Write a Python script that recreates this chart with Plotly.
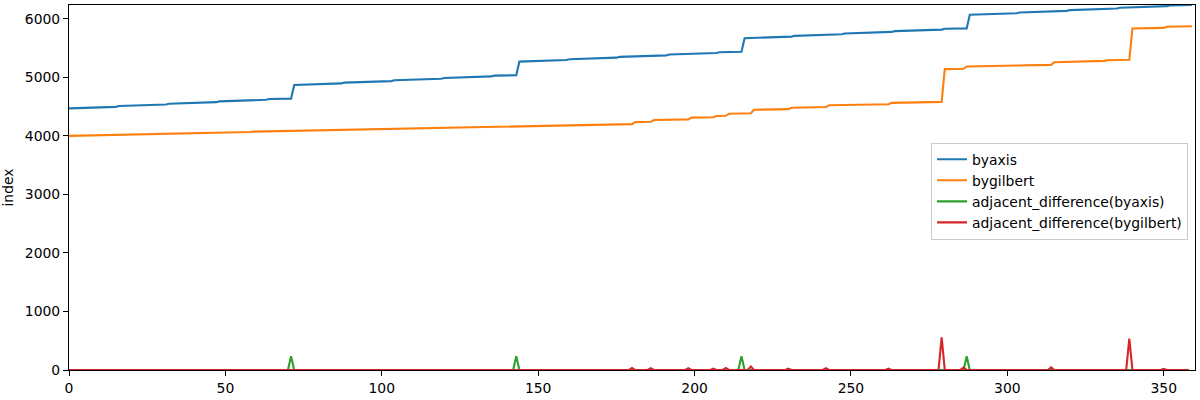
import plotly.graph_objects as go

# ---- data ----
byaxis = [
    4470, 4471, 4472, 4473, 4474, 4475, 4476, 4477,
    4490, 4491, 4492, 4493, 4494, 4495, 4496, 4497,
    4510, 4511, 4512, 4513, 4514, 4515, 4516, 4517,
    4530, 4531, 4532, 4533, 4534, 4535, 4536, 4537,
    4550, 4551, 4552, 4553, 4554, 4555, 4556, 4557,
    4570, 4571, 4572, 4573, 4574, 4575, 4576, 4577,
    4590, 4591, 4592, 4593, 4594, 4595, 4596, 4597,
    4610, 4611, 4612, 4613, 4614, 4615, 4616, 4617,
    4630, 4631, 4632, 4633, 4634, 4635, 4636, 4637,
    4870, 4871, 4872, 4873, 4874, 4875, 4876, 4877,
    4890, 4891, 4892, 4893, 4894, 4895, 4896, 4897,
    4910, 4911, 4912, 4913, 4914, 4915, 4916, 4917,
    4930, 4931, 4932, 4933, 4934, 4935, 4936, 4937,
    4950, 4951, 4952, 4953, 4954, 4955, 4956, 4957,
    4970, 4971, 4972, 4973, 4974, 4975, 4976, 4977,
    4990, 4991, 4992, 4993, 4994, 4995, 4996, 4997,
    5010, 5011, 5012, 5013, 5014, 5015, 5016, 5017,
    5030, 5031, 5032, 5033, 5034, 5035, 5036, 5037,
    5270, 5271, 5272, 5273, 5274, 5275, 5276, 5277,
    5290, 5291, 5292, 5293, 5294, 5295, 5296, 5297,
    5310, 5311, 5312, 5313, 5314, 5315, 5316, 5317,
    5330, 5331, 5332, 5333, 5334, 5335, 5336, 5337,
    5350, 5351, 5352, 5353, 5354, 5355, 5356, 5357,
    5370, 5371, 5372, 5373, 5374, 5375, 5376, 5377,
    5390, 5391, 5392, 5393, 5394, 5395, 5396, 5397,
    5410, 5411, 5412, 5413, 5414, 5415, 5416, 5417,
    5430, 5431, 5432, 5433, 5434, 5435, 5436, 5437,
    5670, 5671, 5672, 5673, 5674, 5675, 5676, 5677,
    5690, 5691, 5692, 5693, 5694, 5695, 5696, 5697,
    5710, 5711, 5712, 5713, 5714, 5715, 5716, 5717,
    5730, 5731, 5732, 5733, 5734, 5735, 5736, 5737,
    5750, 5751, 5752, 5753, 5754, 5755, 5756, 5757,
    5770, 5771, 5772, 5773, 5774, 5775, 5776, 5777,
    5790, 5791, 5792, 5793, 5794, 5795, 5796, 5797,
    5810, 5811, 5812, 5813, 5814, 5815, 5816, 5817,
    5830, 5831, 5832, 5833, 5834, 5835, 5836, 5837,
    6070, 6071, 6072, 6073, 6074, 6075, 6076, 6077,
    6090, 6091, 6092, 6093, 6094, 6095, 6096, 6097,
    6110, 6111, 6112, 6113, 6114, 6115, 6116, 6117,
    6130, 6131, 6132, 6133, 6134, 6135, 6136, 6137,
    6150, 6151, 6152, 6153, 6154, 6155, 6156, 6157,
    6170, 6171, 6172, 6173, 6174, 6175, 6176, 6177,
    6190, 6191, 6192, 6193, 6194, 6195, 6196, 6197,
    6210, 6211, 6212, 6213, 6214, 6215, 6216, 6217,
    6230, 6231, 6232, 6233, 6234, 6235, 6236, 6237,
]

bygilbert = [
    4000, 4001, 4002, 4003, 4004, 4005, 4006, 4007, 4008, 4009,
    4010, 4011, 4012, 4013, 4014, 4015, 4016, 4017, 4018, 4019,
    4020, 4021, 4022, 4031, 4032, 4033, 4034, 4035, 4036, 4037,
    4038, 4039, 4040, 4041, 4042, 4043, 4044, 4045, 4046, 4047,
    4048, 4049, 4050, 4051, 4052, 4053, 4054, 4055, 4056, 4057,
    4058, 4059, 4060, 4061, 4062, 4063, 4064, 4065, 4066, 4073,
    4074, 4075, 4076, 4077, 4078, 4079, 4080, 4081, 4082, 4083,
    4084, 4085, 4086, 4087, 4088, 4089, 4090, 4091, 4092, 4093,
    4094, 4095, 4096, 4097, 4098, 4099, 4100, 4101, 4102, 4103,
    4104, 4105, 4106, 4107, 4108, 4109, 4110, 4111, 4112, 4113,
    4114, 4115, 4116, 4117, 4118, 4119, 4120, 4121, 4122, 4123,
    4124, 4125, 4126, 4127, 4128, 4129, 4130, 4131, 4132, 4133,
    4134, 4135, 4136, 4137, 4138, 4139, 4140, 4141, 4142, 4143,
    4144, 4145, 4146, 4147, 4148, 4149, 4150, 4151, 4152, 4153,
    4154, 4155, 4156, 4157, 4158, 4159, 4160, 4161, 4162, 4163,
    4164, 4165, 4166, 4167, 4168, 4176, 4177, 4178, 4179, 4180,
    4181, 4182, 4183, 4184, 4185, 4186, 4187, 4188, 4189, 4190,
    4191, 4192, 4193, 4194, 4195, 4196, 4197, 4198, 4199, 4200,
    4201, 4236, 4237, 4238, 4239, 4240, 4241, 4271, 4272, 4273,
    4274, 4275, 4276, 4277, 4278, 4279, 4280, 4281, 4282, 4312,
    4313, 4314, 4315, 4316, 4317, 4318, 4319, 4341, 4342, 4343,
    4344, 4379, 4380, 4381, 4382, 4383, 4384, 4385, 4386, 4446,
    4447, 4448, 4449, 4450, 4451, 4452, 4453, 4454, 4455, 4456,
    4457, 4482, 4483, 4484, 4485, 4486, 4487, 4488, 4489, 4490,
    4491, 4492, 4493, 4523, 4524, 4525, 4526, 4527, 4528, 4529,
    4530, 4531, 4532, 4533, 4534, 4535, 4536, 4537, 4538, 4539,
    4540, 4541, 4542, 4565, 4566, 4567, 4568, 4569, 4570, 4571,
    4572, 4573, 4574, 4575, 4576, 4577, 4578, 4579, 4580, 4581,
    5141, 5142, 5143, 5144, 5145, 5146, 5147, 5187, 5188, 5189,
    5190, 5191, 5192, 5193, 5194, 5195, 5196, 5197, 5198, 5199,
    5200, 5201, 5202, 5203, 5204, 5205, 5206, 5207, 5208, 5209,
    5210, 5211, 5212, 5213, 5214, 5259, 5260, 5261, 5262, 5263,
    5264, 5272, 5273, 5274, 5275, 5276, 5277, 5278, 5279, 5280,
    5281, 5282, 5294, 5295, 5296, 5297, 5298, 5299, 5300, 5301,
    5836, 5837, 5838, 5839, 5840, 5841, 5842, 5843, 5844, 5845,
    5846, 5866, 5867, 5868, 5869, 5870, 5871, 5872, 5873, 5874,
]

diff_byaxis = [
    1, 1, 1, 1, 1, 1, 1, 13,  1, 1, 1, 1, 1, 1, 1, 13,
    1, 1, 1, 1, 1, 1, 1, 13,  1, 1, 1, 1, 1, 1, 1, 13,
    1, 1, 1, 1, 1, 1, 1, 13,  1, 1, 1, 1, 1, 1, 1, 13,
    1, 1, 1, 1, 1, 1, 1, 13,  1, 1, 1, 1, 1, 1, 1, 13,
    1, 1, 1, 1, 1, 1, 1, 233,
    1, 1, 1, 1, 1, 1, 1, 13,  1, 1, 1, 1, 1, 1, 1, 13,
    1, 1, 1, 1, 1, 1, 1, 13,  1, 1, 1, 1, 1, 1, 1, 13,
    1, 1, 1, 1, 1, 1, 1, 13,  1, 1, 1, 1, 1, 1, 1, 13,
    1, 1, 1, 1, 1, 1, 1, 13,  1, 1, 1, 1, 1, 1, 1, 13,
    1, 1, 1, 1, 1, 1, 1, 233,
    1, 1, 1, 1, 1, 1, 1, 13,  1, 1, 1, 1, 1, 1, 1, 13,
    1, 1, 1, 1, 1, 1, 1, 13,  1, 1, 1, 1, 1, 1, 1, 13,
    1, 1, 1, 1, 1, 1, 1, 13,  1, 1, 1, 1, 1, 1, 1, 13,
    1, 1, 1, 1, 1, 1, 1, 13,  1, 1, 1, 1, 1, 1, 1, 13,
    1, 1, 1, 1, 1, 1, 1, 233,
    1, 1, 1, 1, 1, 1, 1, 13,  1, 1, 1, 1, 1, 1, 1, 13,
    1, 1, 1, 1, 1, 1, 1, 13,  1, 1, 1, 1, 1, 1, 1, 13,
    1, 1, 1, 1, 1, 1, 1, 13,  1, 1, 1, 1, 1, 1, 1, 13,
    1, 1, 1, 1, 1, 1, 1, 13,  1, 1, 1, 1, 1, 1, 1, 13,
    1, 1, 1, 1, 1, 1, 1, 233,
    1, 1, 1, 1, 1, 1, 1, 13,  1, 1, 1, 1, 1, 1, 1, 13,
    1, 1, 1, 1, 1, 1, 1, 13,  1, 1, 1, 1, 1, 1, 1, 13,
    1, 1, 1, 1, 1, 1, 1, 13,  1, 1, 1, 1, 1, 1, 1, 13,
    1, 1, 1, 1, 1, 1, 1, 13,  1, 1, 1, 1, 1, 1, 1, 13,
    1, 1, 1, 1, 1, 1, 1,
]

diff_bygilbert = [
    1, 1, 1, 1, 1, 1, 1, 1, 1, 1,
    1, 1, 1, 1, 1, 1, 1, 1, 1, 1,
    1, 1, 9, 1, 1, 1, 1, 1, 1, 1,
    1, 1, 1, 1, 1, 1, 1, 1, 1, 1,
    1, 1, 1, 1, 1, 1, 1, 1, 1, 1,
    1, 1, 1, 1, 1, 1, 1, 1, 7, 1,
    1, 1, 1, 1, 1, 1, 1, 1, 1, 1,
    1, 1, 1, 1, 1, 1, 1, 1, 1, 1,
    1, 1, 1, 1, 1, 1, 1, 1, 1, 1,
    1, 1, 1, 1, 1, 1, 1, 1, 1, 1,
    1, 1, 1, 1, 1, 1, 1, 1, 1, 1,
    1, 1, 1, 1, 1, 1, 1, 1, 1, 1,
    1, 1, 1, 1, 1, 1, 1, 1, 1, 1,
    1, 1, 1, 1, 1, 1, 1, 1, 1, 1,
    1, 1, 1, 1, 1, 1, 1, 1, 1, 1,
    1, 1, 1, 1, 8, 1, 1, 1, 1, 1,
    1, 1, 1, 1, 1, 1, 1, 1, 1, 1,
    1, 1, 1, 1, 1, 1, 1, 1, 1, 1,
    35, 1, 1, 1, 1, 1, 30, 1, 1, 1,
    1, 1, 1, 1, 1, 1, 1, 1, 30, 1,
    1, 1, 1, 1, 1, 1, 22, 1, 1, 1,
    35, 1, 1, 1, 1, 1, 1, 1, 60, 1,
    1, 1, 1, 1, 1, 1, 1, 1, 1, 1,
    25, 1, 1, 1, 1, 1, 1, 1, 1, 1,
    1, 1, 30, 1, 1, 1, 1, 1, 1, 1,
    1, 1, 1, 1, 1, 1, 1, 1, 1, 1,
    1, 1, 23, 1, 1, 1, 1, 1, 1, 1,
    1, 1, 1, 1, 1, 1, 1, 1, 1, 560,
    1, 1, 1, 1, 1, 1, 40, 1, 1, 1,
    1, 1, 1, 1, 1, 1, 1, 1, 1, 1,
    1, 1, 1, 1, 1, 1, 1, 1, 1, 1,
    1, 1, 1, 1, 45, 1, 1, 1, 1, 1,
    8, 1, 1, 1, 1, 1, 1, 1, 1, 1,
    1, 12, 1, 1, 1, 1, 1, 1, 1, 535,
    1, 1, 1, 1, 1, 1, 1, 1, 1, 1,
    20, 1, 1, 1, 1, 1, 1, 1, 1,
]

series_names = ["byaxis", "bygilbert",
                "adjacent_difference(byaxis)", "adjacent_difference(bygilbert)"]
series_colors = ["#1f77b4", "#ff7f0e", "#2ca02c", "#d62728"]
series_values = [byaxis, bygilbert, diff_byaxis, diff_bygilbert]

FONT = "DejaVu Sans"
FS = 13.9

fig = go.Figure()
for name, color, vals in zip(series_names, series_colors, series_values):
    fig.add_trace(go.Scatter(
        x=list(range(len(vals))), y=vals, mode="lines", name=name,
        line=dict(color=color, width=2.1),
    ))

axis_common = dict(
    showgrid=False, zeroline=False,
    showline=True, linecolor="black", linewidth=1.1, mirror=True,
    ticks="outside", ticklen=5, tickwidth=1.1, tickcolor="black",
    tickfont=dict(family=FONT, size=FS, color="black"),
)

fig.update_layout(
    width=1200, height=400,
    margin=dict(l=69, r=4, t=4, b=28),
    paper_bgcolor="white", plot_bgcolor="white",
    font=dict(family=FONT, size=FS, color="black"),
    xaxis=dict(range=[0, 360], tickmode="array",
               tickvals=[0, 50, 100, 150, 200, 250, 300, 350], **axis_common),
    yaxis=dict(range=[0, 6237], tickmode="array",
               tickvals=[0, 1000, 2000, 3000, 4000, 5000, 6000],
               title=dict(text="index", standoff=8,
                          font=dict(family=FONT, size=FS, color="black")),
               **axis_common),
    legend=dict(x=0.9938, xanchor="right", y=0.49, yanchor="middle",
                bgcolor="rgba(255,255,255,0.8)", bordercolor="#cccccc",
                borderwidth=1, font=dict(family=FONT, size=FS, color="black"),
                tracegroupgap=0),
    showlegend=True,
)

fig.write_html(
    "out.html",
    config={"displayModeBar": False},
    post_script="document.body.style.margin='0';document.body.style.padding='0';"
                "document.body.style.overflow='hidden';",
)
